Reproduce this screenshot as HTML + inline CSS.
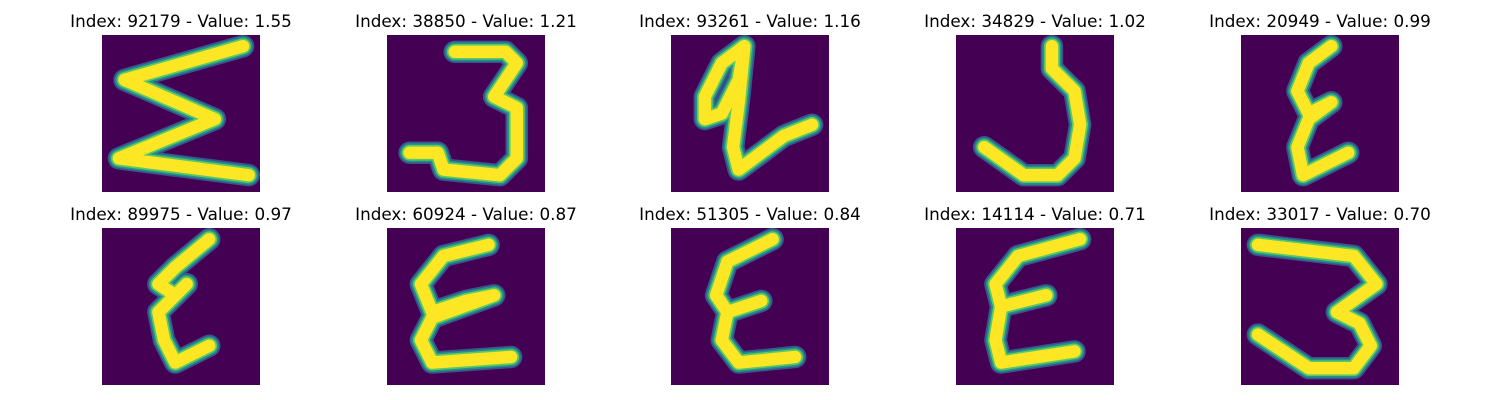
<!DOCTYPE html>
<html><head><meta charset="utf-8">
<style>
html,body{margin:0;padding:0;background:#fff;}
body{width:1500px;height:400px;position:relative;overflow:hidden;font-family:"DejaVu Sans","Liberation Sans",sans-serif;}
.t{position:absolute;font-size:16.8px;color:#000;white-space:nowrap;transform:translateX(-50%);}
svg.p{position:absolute;width:158px;height:157px;}
</style></head>
<body>
<div id="root"></div>
<script>
const indices=[92179,38850,93261,34829,20949,89975,60924,51305,14114,33017];
const values=["1.55","1.21","1.16","1.02","0.99","0.97","0.87","0.84","0.71","0.70"];
const strokes=[
 [[25,2],[4,8],[20,15],[3,22],[26,25]],
 [[12,3],[21,3],[23,5],[19,11],[23,13],[23,22],[20,25],[10,24],[9,21],[4,21]],
 [[13,2],[9,5],[6,11],[6,15],[9,14],[12,8],[13,2],[12,12],[11,20],[12,24],[20,18],[25,16]],
 [[17,2],[17,6],[21,10],[22,16],[21,22],[18,25],[12,25],[5,20]],
 [[16,2],[12,5],[10,10],[12,14],[16,12],[12,15],[10,20],[11,25],[19,21]],
 [[19,2],[13,7],[10,10],[13,12],[15,10],[10,15],[11,20],[13,24],[19,21]],
 [[18,3],[10,5],[6,10],[8,15],[14,13],[19,12],[8,16],[6,20],[8,24],[22,23]],
 [[18,2],[10,6],[8,12],[10,15],[16,13],[10,15],[9,20],[12,24],[22,23]],
 [[22,2],[11,5],[7,10],[8,14],[16,12],[8,14],[7,20],[8,24],[21,22]],
 [[3,3],[20,5],[24,10],[17,15],[21,17],[23,21],[20,25],[12,25],[3,19]]
];
const colX=[102,387,671,956,1241], rowY=[35,228];
const root=document.getElementById('root');
for(let i=0;i<indices.length;i++){
  const c=i%5, r=Math.floor(i/5);
  const t=document.createElement('div');
  t.className='t';
  
  
  t.style.left=(colX[c]+79)+'px';
  t.style.top=(rowY[r]-24)+'px';
  t.textContent='Index: '+indices[i]+' - Value: '+values[i];
  root.appendChild(t);
  const ns='http://www.w3.org/2000/svg';
  const s=document.createElementNS(ns,'svg');
  s.setAttribute('class','p');
  s.setAttribute('viewBox','0 0 28 28');
  s.setAttribute('preserveAspectRatio','none');
  
  
  s.style.left=colX[c]+'px'; s.style.top=rowY[r]+'px';
  const bg=document.createElementNS(ns,'rect');
  bg.setAttribute('width','28');bg.setAttribute('height','28');bg.setAttribute('fill','#440154');
  s.appendChild(bg);
  const pts=strokes[i].map(p=>p.join(',')).join(' ');
  [['#3b528b',4.0],['#21918c',3.4],['#5ec962',2.8],['#fde725',2.2]].forEach(([col,w])=>{
    const pl=document.createElementNS(ns,'polyline');
    pl.setAttribute('points',pts);pl.setAttribute('fill','none');
    pl.setAttribute('stroke',col);pl.setAttribute('stroke-width',w);
    pl.setAttribute('stroke-linejoin','round');pl.setAttribute('stroke-linecap','round');
    
    
    s.appendChild(pl);
  });
  root.appendChild(s);
}
</script>
</body></html>
